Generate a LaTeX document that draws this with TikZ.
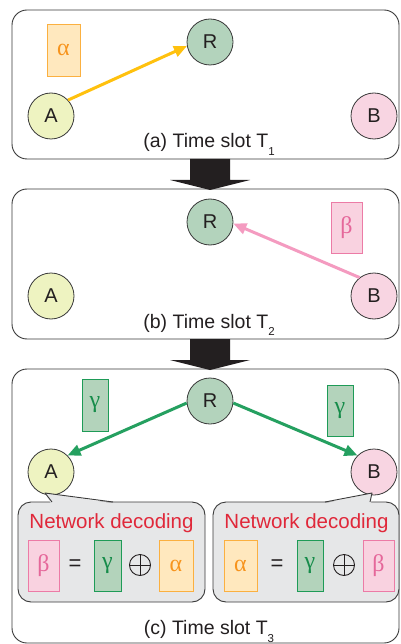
\documentclass[tikz,border=0pt]{standalone}
\usepackage{fontspec}
\setmainfont{Liberation Sans}
\newfontfamily\grk{Liberation Serif}
\usetikzlibrary{arrows.meta}
\definecolor{ink}{HTML}{231F20}
\definecolor{panelline}{HTML}{3A3A3A}
\definecolor{alphaFill}{HTML}{FFE8BE}
\definecolor{alphaLine}{HTML}{FBB040}
\definecolor{alphaText}{HTML}{F7941D}
\definecolor{betaFill}{HTML}{F9D2E0}
\definecolor{betaLine}{HTML}{EC7BA6}
\definecolor{betaText}{HTML}{E5679A}
\definecolor{gammaFill}{HTML}{B3D3BB}
\definecolor{gammaLine}{HTML}{1E9B57}
\definecolor{gammaText}{HTML}{168C4A}
\definecolor{Afill}{HTML}{EEF3C1}
\definecolor{Rfill}{HTML}{B3D3BC}
\definecolor{Bfill}{HTML}{F8D5E2}
\definecolor{yarrow}{HTML}{FFC10E}
\definecolor{parrow}{HTML}{F49BC0}
\definecolor{garrow}{HTML}{25A060}
\definecolor{calloutFill}{HTML}{E6E7E8}
\definecolor{decred}{HTML}{E0283A}
\newcommand{\sub}[1]{\raisebox{-7.5pt}{\fontsize{11.5}{11.5}\selectfont #1}}
\begin{document}
\begin{tikzpicture}[x=1pt,y=-1pt,
  panel/.style={draw=panelline, line width=0.9pt, rounded corners=15pt, fill=white},
  callout/.style={draw=panelline, line width=0.9pt, rounded corners=13pt, fill=calloutFill},
  circ/.style={circle, draw=panelline, line width=0.8pt, minimum size=46pt, inner sep=0pt, text=ink, font=\fontsize{20}{20}\selectfont},
  gbox/.style={draw, line width=0.9pt, inner sep=0pt, font=\grk\fontsize{24}{24}\selectfont},
  abox/.style={gbox, draw=alphaLine, fill=alphaFill, text=alphaText},
  bbox/.style={gbox, draw=betaLine, fill=betaFill, text=betaText},
  cbox/.style={gbox, draw=gammaLine, fill=gammaFill, text=gammaText},
  lbl/.style={anchor=base, text=ink, font=\fontsize{19.5}{20}\selectfont, inner sep=0pt},
  decl/.style={text=decred, font=\fontsize{20.5}{21}\selectfont, inner sep=0pt},
  eqs/.style={text=ink, font=\fontsize{22}{22}\selectfont, inner sep=0pt},
  oplus/.style={circle, draw=ink, line width=0.9pt, minimum size=21pt, inner sep=0pt},
  conn/.style={line width=3pt, -{Triangle[length=13pt,width=11pt]}},
  bigarrow/.style={fill=ink}
]
\useasboundingbox (0,0) rectangle (400,644);

% panels
\draw[panel] (12,10) rectangle (399,159);
\draw[panel] (12,189) rectangle (399,339);
\draw[panel] (12,369) rectangle (399,643);

% big arrows
\fill[bigarrow] (190,159) -- (230,159) -- (230,180) -- (250,180) -- (210,190) -- (170,180) -- (190,180) -- cycle;
\fill[bigarrow] (190,339) -- (230,339) -- (230,360) -- (250,360) -- (210,370) -- (170,360) -- (190,360) -- cycle;

% panel (a)
\node[circ, fill=Rfill] (R1) at (210,42) {R};
\node[circ, fill=Afill] (A1) at (51,116) {A};
\node[circ, fill=Bfill] (B1) at (374,116) {B};
\node[abox, minimum width=33pt, minimum height=52pt] (al1) at (63.5,50) {α};
\draw[conn, draw=yarrow] (A1.43) -- (R1.190);
\node[lbl] (lab1) at (209,148) {(a) Time slot T\sub{1}};

% panel (b)
\node[circ, fill=Rfill] (R2) at (210,222) {R};
\node[circ, fill=Afill] (A2) at (51,296) {A};
\node[circ, fill=Bfill] (B2) at (374,296) {B};
\node[bbox, minimum width=31pt, minimum height=51pt] (be2) at (346.5,227.5) {β};
\draw[conn, draw=parrow] (B2.128) -- (R2.-4);
\node[lbl] (lab2) at (209,328) {(b) Time slot T\sub{2}};

% panel (c)
\node[circ, fill=Rfill] (R3) at (210,401) {R};
\node[circ, fill=Afill] (A3) at (51,472) {A};
\node[circ, fill=Bfill] (B3) at (374,472) {B};
\node[cbox, minimum width=26pt, minimum height=52pt] (ga3l) at (95,405) {γ};
\node[cbox, minimum width=26pt, minimum height=51pt] (ga3r) at (340,410.5) {γ};
\draw[conn, draw=garrow] (R3.185) -- (A3.45);
\draw[conn, draw=garrow] (R3.-5) -- (B3.135);
\node[lbl] (lab3) at (209,634.5) {(c) Time slot T\sub{3}};

% callouts
\draw[callout] (18,502) rectangle (205,602);
\fill[calloutFill] (51,503.5) -- (45,493) -- (114,503.5) -- cycle;
\draw[draw=panelline, line width=0.9pt, line join=round] (52,502) -- (45,493) -- (113,502);
\draw[callout] (213,502) rectangle (399,602);
\fill[calloutFill] (324,503.5) -- (372,493) -- (371,503.5) -- cycle;
\draw[draw=panelline, line width=0.9pt, line join=round] (325,502) -- (372,493) -- (370,502);

\node[decl] (dec1) at (111.5,523) {Network decoding};
\node[decl] (dec2) at (306.5,523) {Network decoding};

% equation left
\node[bbox, minimum width=31pt, minimum height=51pt] (eb1) at (43.5,565.5) {β};
\node[eqs] (eq1) at (75,565) {=};
\node[cbox, minimum width=27pt, minimum height=51pt] (eg1) at (107.5,565.5) {γ};
\node[oplus] (op1) at (140,565) {};
\draw[ink, line width=0.9pt] (op1.north) -- (op1.south) (op1.west) -- (op1.east);
\node[abox, minimum width=34pt, minimum height=51pt] (ea1) at (176,565.5) {α};

% equation right
\node[abox, minimum width=33pt, minimum height=51pt] (ea2) at (240.5,565.5) {α};
\node[eqs] (eq2) at (277,565) {=};
\node[cbox, minimum width=26pt, minimum height=51pt] (eg2) at (310,565.5) {γ};
\node[oplus] (op2) at (344,565) {};
\draw[ink, line width=0.9pt] (op2.north) -- (op2.south) (op2.west) -- (op2.east);
\node[bbox, minimum width=31pt, minimum height=51pt] (eb2) at (378.5,565.5) {β};
\end{tikzpicture}
\end{document}
